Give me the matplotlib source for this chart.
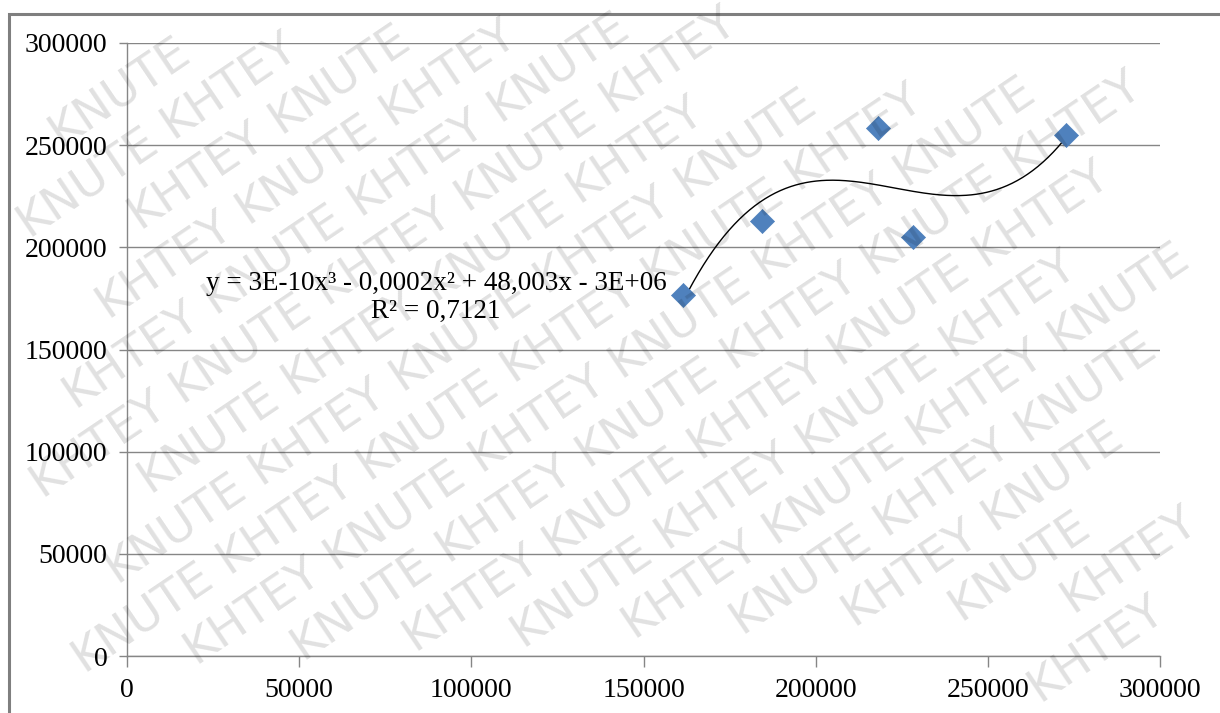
import numpy as np
import matplotlib
matplotlib.use("Agg")
import matplotlib.pyplot as plt
from matplotlib.patches import Rectangle
from matplotlib.textpath import TextPath
from matplotlib.font_manager import FontProperties

# data
x_vals = [161500, 184400, 218100, 228300, 272700]
y_vals = [176700, 212900, 258400, 205100, 255000]
x_ticks = [0, 50000, 100000, 150000, 200000, 250000, 300000]
y_ticks = [0, 50000, 100000, 150000, 200000, 250000, 300000]
eq_text = "y = 3E-10x³ - 0,0002x² + 48,003x - 3E+06"
r2_text = "R² = 0,7121"
wm_words = ["KHTEY", "KNUTE"]

plt.rcParams['font.family'] = ['Liberation Serif', 'DejaVu Serif']

W, H = 1220, 713
fig = plt.figure(figsize=(W / 100, H / 100), dpi=100)
ax = fig.add_axes([127/W, 1-656/H, (1160-127)/W, (656-43)/H])

# outer chart border
fig.patches.append(Rectangle((9/W, -0.1), 1.2, 1 - 14/H + 0.1,
                             transform=fig.transFigure, fill=False,
                             edgecolor='#7f7f7f', linewidth=2.2, zorder=0))

ax.set_xlim(0, 300000)
ax.set_ylim(0, 300000)
ax.set_xticks(x_ticks)
ax.set_yticks(y_ticks)
ax.set_xticklabels([str(t) for t in x_ticks])
ax.set_yticklabels([str(t) for t in y_ticks])
ax.tick_params(axis='both', labelsize=20, colors='#868686', labelcolor='black',
               width=1, direction='out')
ax.tick_params(axis='x', length=8, pad=8)
ax.tick_params(axis='y', length=6, pad=8)
ax.grid(axis='y', color='#868686', linewidth=1)
ax.set_axisbelow(True)
for s in ['top', 'right']:
    ax.spines[s].set_visible(False)
for s in ['left', 'bottom']:
    ax.spines[s].set_color('#868686')
    ax.spines[s].set_linewidth(1)

# cubic trendline fitted to the points
coef = np.polyfit(x_vals, y_vals, 3)
xs = np.linspace(min(x_vals), max(x_vals), 300)
ax.plot(xs, np.polyval(coef, xs), color='black', linewidth=1, zorder=3)

ax.scatter(x_vals, y_vals, marker='D', s=150, color='#4F81BD',
           edgecolors='#4F81BD', linewidths=0.5, zorder=4)

ax.text(436/W, 1-283/H, eq_text, transform=fig.transFigure,
        ha='center', va='center', fontsize=19.5)
ax.text(436/W, 1-311/H, r2_text, transform=fig.transFigure,
        ha='center', va='center', fontsize=19.5)

# watermark: lattice of whole words, each kept fully inside the figure
wm_pt = 34
wm_px = wm_pt * 100 / 72
fp = FontProperties(family='DejaVu Sans')
def tw(s):
    return TextPath((0, 0), s, size=wm_px, prop=fp).get_extents().width
step = (tw("KHTEY KNUTE K") - tw("K")) / 2.0
wlen = max(tw(w) for w in wm_words)
hgt = wm_px * 0.75
ang = 34
th = np.deg2rad(ang)
d = np.array([np.cos(th), np.sin(th)])
n = np.array([-np.sin(th), np.cos(th)])
spacing = 56
for k in range(-25, 25):
    shift = (k * 0.45) % 2.0
    for i in range(-20, 20):
        c = k * spacing * n + (i + shift) * step * d
        word = wm_words[i % 2]
        ok = True
        for a in (-1, 1):
            for b in (-1, 1):
                p = c + a * wlen / 2 * d + b * hgt / 2 * n
                if not (2 <= p[0] <= W - 2 and 2 <= p[1] <= H - 2):
                    ok = False
        if ok:
            fig.text(c[0] / W, c[1] / H, word, rotation=ang,
                     rotation_mode='anchor', fontsize=wm_pt,
                     family='DejaVu Sans', color='black', alpha=0.12,
                     ha='center', va='center', zorder=10)

fig.savefig("out.png", dpi=100)
